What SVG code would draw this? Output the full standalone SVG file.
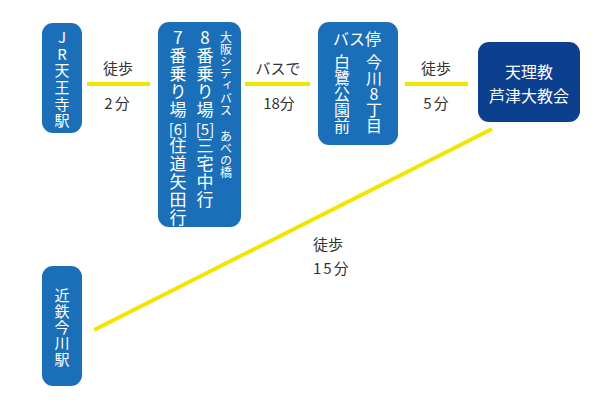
<svg xmlns="http://www.w3.org/2000/svg" width="609" height="403" viewBox="0 0 609 403">
<style>
.box{fill:#1b6fb8}
.dark{fill:#0c3f8e}
.w{fill:#ffffff;font-family:"Noto Sans CJK JP","Noto Sans",sans-serif;text-anchor:middle;dominant-baseline:central}
.v{fill:#ffffff;font-family:"Noto Sans CJK JP","Noto Sans",sans-serif;writing-mode:vertical-rl;text-orientation:upright;text-anchor:start}
.lbl{fill:#333333;font-family:"Noto Sans CJK JP","Noto Sans",sans-serif;font-size:15px;dominant-baseline:central}
.ln{stroke:#f2e500;stroke-width:4;fill:none;stroke-linecap:butt}
</style>
<rect width="609" height="403" fill="#ffffff"/>
<g id="connectors">
<line class="ln" x1="87" y1="84" x2="150" y2="84"/>
<line class="ln" x1="245" y1="84" x2="310" y2="84"/>
<line class="ln" x1="405" y1="84" x2="468" y2="84"/>
<line class="ln" x1="492" y1="129" x2="94" y2="330"/>
<text class="lbl" x="118" y="67" text-anchor="middle">徒歩</text>
<text class="lbl" x="118" y="102" text-anchor="middle" letter-spacing="2">2分</text>
<text class="lbl" x="278" y="67" text-anchor="middle">バスで</text>
<text class="lbl" x="279" y="102" text-anchor="middle">18分</text>
<text class="lbl" x="436" y="67" text-anchor="middle">徒歩</text>
<text class="lbl" x="437" y="102" text-anchor="middle" letter-spacing="2">5分</text>
<text class="lbl" x="313" y="243">徒歩</text>
<text class="lbl" x="313" y="267" letter-spacing="2">15分</text>
</g>
<g id="jr">
<rect class="box" x="42" y="23" width="40" height="110" rx="11"/>
<text class="v" font-size="15" x="62" y="30" letter-spacing="1.6">JR天王寺駅</text>
</g>
<g id="osaka">
<rect class="box" x="158" y="22" width="83" height="205" rx="11"/>
<text class="v" font-size="12" x="226" y="31" letter-spacing="0.2">大阪シティバス</text>
<text class="v" font-size="12" x="226" y="130" letter-spacing="0.2">あべの橋</text>
<text class="v" font-size="17" x="205" y="29" letter-spacing="1">8番乗り場</text>
<text class="w" font-size="15" x="205" y="128">[5]</text>
<text class="v" font-size="17" x="205" y="137" letter-spacing="1">三宅中行</text>
<text class="v" font-size="17" x="178" y="29" letter-spacing="1">7番乗り場</text>
<text class="w" font-size="15" x="178" y="128">[6]</text>
<text class="v" font-size="17" x="178" y="137" letter-spacing="1">住道矢田行</text>
</g>
<g id="busstop">
<rect class="box" x="318" y="22" width="80" height="123" rx="11"/>
<text class="w" font-size="16" x="357" y="38">バス停</text>
<text class="v" font-size="16" x="374" y="54">今川8丁目</text>
<text class="v" font-size="16" x="342" y="54">白鷺公園前</text>
</g>
<g id="tenri">
<rect class="dark" x="478" y="42" width="102" height="80" rx="11"/>
<text class="w" font-size="16" x="529" y="71">天理教</text>
<text class="w" font-size="16" x="529" y="95">芦津大教会</text>
</g>
<g id="kintetsu">
<rect class="box" x="42" y="266" width="40" height="120" rx="11"/>
<text class="v" font-size="15" x="62" y="287.5" letter-spacing="1.2">近鉄今川駅</text>
</g>
</svg>
